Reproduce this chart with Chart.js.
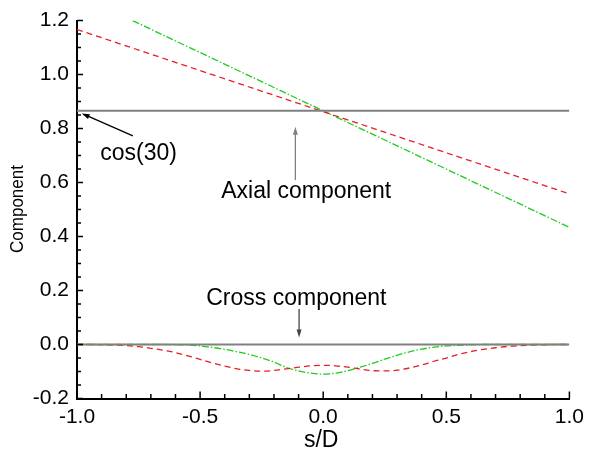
<!DOCTYPE html>
<html>
<head>
<meta charset="utf-8">
<script src="https://cdn.jsdelivr.net/npm/chart.js@4.4.0/dist/chart.umd.min.js"></script>
<style>
html, body { margin: 0; padding: 0; background: #fff; }
</style>
</head>
<body>
<canvas id="drawChart" width="590" height="451"></canvas>
<script>
// axial component (straight lines), s/D end points
var axialRedS = [-1.0, 1.0];
var axialRed = [1.167, 0.558];
var axialGreenS = [-0.774, 1.0];
var axialGreen = [1.2, 0.434];

// reference lines: cos(30) and zero
var refS = [-1.0, 1.0];
var cos30 = [0.866, 0.866];
var zero = [0.0, 0.0];

// cross component, read every 0.05 in s/D
var crossS = [-1.00, -0.95, -0.90, -0.85, -0.80, -0.75, -0.70, -0.65, -0.60, -0.55,
              -0.50, -0.45, -0.40, -0.35, -0.30, -0.25, -0.20, -0.15, -0.10, -0.05,
               0.00,  0.05,  0.10,  0.15,  0.20,  0.25,  0.30,  0.35,  0.40,  0.45,
               0.50,  0.55,  0.60,  0.65,  0.70,  0.75,  0.80,  0.85,  0.90,  0.95, 1.00];
var crossRed = [0.000, 0.000, -0.001, -0.002, -0.004, -0.008, -0.014, -0.021, -0.030, -0.042,
                -0.055, -0.068, -0.080, -0.090, -0.096, -0.099, -0.096, -0.090, -0.084, -0.079,
                -0.077, -0.079, -0.084, -0.091, -0.097, -0.098, -0.095, -0.087, -0.076, -0.062,
                -0.050, -0.036, -0.026, -0.018, -0.012, -0.007, -0.004, -0.002, -0.001, 0.000, 0.000];
var crossGreen = [0.000, 0.000, 0.000, 0.000, 0.000, 0.000, 0.000, 0.000, -0.001, -0.002,
                  -0.005, -0.011, -0.018, -0.027, -0.037, -0.050, -0.065, -0.085, -0.098, -0.106,
                  -0.110, -0.106, -0.097, -0.084, -0.070, -0.054, -0.040, -0.027, -0.017, -0.010,
                  -0.005, -0.003, -0.001, 0.000, 0.000, 0.000, 0.000, 0.000, 0.000, 0.000, 0.000];

var xTicks = [-1.0, -0.5, 0.0, 0.5, 1.0];
var yTicks = [-0.2, 0.0, 0.2, 0.4, 0.6, 0.8, 1.0, 1.2];

var FONT = '"Liberation Sans", Arial, sans-serif';
var RED = 'rgb(228,32,36)';
var GREEN = 'rgb(30,205,30)';
var GRAY = 'rgb(128,128,128)';

function pts(xs, ys) {
	return xs.map(function (x, i) { return { x: x, y: ys[i] }; });
}

function fmt(v) {
	if (Math.abs(v) < 1e-9) v = 0;
	return v.toFixed(1);
}

// text labels with arrows, in data units
var notes = [
	{ text: 'cos(30)', at: [-0.75, 0.708], from: [-0.773, 0.773], to: [-0.981, 0.856], color: '#000' },
	{ text: 'Axial component', at: [-0.069, 0.565], from: [-0.113, 0.609], to: [-0.113, 0.807], color: GRAY },
	{ text: 'Cross component', at: [-0.109, 0.169], from: [-0.098, 0.132], to: [-0.098, 0.026], color: '#444' }
];

var extras = {
	id: 'extras',
	afterDraw: function (chart) {
		var ctx = chart.ctx, xs = chart.scales.x, ys = chart.scales.y, a = chart.chartArea;
		ctx.save();
		// inward tick marks
		ctx.strokeStyle = '#000';
		ctx.lineWidth = 1.5;
		ctx.beginPath();
		for (var i = 0; i <= 20; i++) {
			var px = xs.getPixelForValue(-1 + i * 0.1);
			var len = (i % 5 === 0) ? 7 : 4.5;
			ctx.moveTo(px, a.bottom);
			ctx.lineTo(px, a.bottom - len);
		}
		for (var j = 0; j <= 28; j++) {
			var py = ys.getPixelForValue(-0.2 + j * 0.05);
			var l2 = (j % 4 === 0) ? 6 : 4;
			ctx.moveTo(a.left, py);
			ctx.lineTo(a.left + l2, py);
		}
		ctx.stroke();

		// axis titles
		ctx.fillStyle = '#000';
		ctx.textAlign = 'center';
		ctx.textBaseline = 'middle';
		ctx.save();
		ctx.translate(18, 209);
		ctx.rotate(-Math.PI / 2);
		ctx.font = '19px ' + FONT;
		var w = ctx.measureText('Component').width;
		ctx.scale(88 / w, 1);
		ctx.fillText('Component', 0, 0);
		ctx.restore();
		ctx.font = '23px ' + FONT;
		ctx.fillText('s/D', (a.left + a.right) / 2 - 2, 441);

		// notes
		ctx.font = '23px ' + FONT;
		notes.forEach(function (n) {
			ctx.fillStyle = '#000';
			ctx.fillText(n.text, xs.getPixelForValue(n.at[0]), ys.getPixelForValue(n.at[1]));
			var x0 = xs.getPixelForValue(n.from[0]), y0 = ys.getPixelForValue(n.from[1]);
			var x1 = xs.getPixelForValue(n.to[0]), y1 = ys.getPixelForValue(n.to[1]);
			var ang = Math.atan2(y1 - y0, x1 - x0);
			ctx.strokeStyle = n.color;
			ctx.fillStyle = n.color;
			ctx.lineWidth = 1.3;
			ctx.beginPath();
			ctx.moveTo(x0, y0);
			ctx.lineTo(x1 - 5 * Math.cos(ang), y1 - 5 * Math.sin(ang));
			ctx.stroke();
			ctx.beginPath();
			ctx.moveTo(x1, y1);
			ctx.lineTo(x1 - 8 * Math.cos(ang) + 2.5 * Math.sin(ang), y1 - 8 * Math.sin(ang) - 2.5 * Math.cos(ang));
			ctx.lineTo(x1 - 8 * Math.cos(ang) - 2.5 * Math.sin(ang), y1 - 8 * Math.sin(ang) + 2.5 * Math.cos(ang));
			ctx.closePath();
			ctx.fill();
		});
		ctx.restore();
	}
};

var line = function (data, color, width, dash) {
	return {
		data: data,
		showLine: true,
		borderColor: color,
		borderWidth: width,
		borderDash: dash,
		pointRadius: 0,
		fill: false,
		cubicInterpolationMode: 'monotone'
	};
};

var ctx = document.getElementById('drawChart').getContext('2d');
var drawChart = new Chart(ctx, {
	type: 'scatter',
	data: {
		datasets: [
			line(pts(refS, cos30), GRAY, 2, []),
			line(pts(refS, zero), GRAY, 2, []),
			line(pts(axialRedS, axialRed), RED, 1.3, [6, 4]),
			line(pts(axialGreenS, axialGreen), GREEN, 1.3, [7, 2, 1.5, 2]),
			line(pts(crossS, crossRed), RED, 1.3, [6, 4]),
			line(pts(crossS, crossGreen), GREEN, 1.3, [7, 2, 1.5, 2])
		]
	},
	options: {
		responsive: false,
		animation: false,
		layout: { padding: { top: 17, right: 17, left: 0, bottom: 0 } },
		plugins: { legend: { display: false }, tooltip: { enabled: false } },
		scales: {
			x: {
				type: 'linear',
				min: -1, max: 1,
				afterBuildTicks: function (s) { s.ticks = xTicks.map(function (v) { return { value: v }; }); },
				afterFit: function (s) { s.height = 52.5; },
				grid: { display: false, drawTicks: false },
				border: { display: true, color: '#000', width: 2 },
				ticks: { color: '#000', font: { family: FONT, size: 21 }, padding: 6, maxRotation: 0, callback: fmt },
				title: { display: false }
			},
			y: {
				type: 'linear',
				min: -0.2, max: 1.2,
				afterBuildTicks: function (s) { s.ticks = yTicks.map(function (v) { return { value: v }; }); },
				afterFit: function (s) { s.width = 77; },
				grid: { display: false, drawTicks: false },
				border: { display: true, color: '#000', width: 2 },
				ticks: { color: '#000', font: { family: FONT, size: 21 }, padding: 8, callback: fmt },
				title: { display: false }
			}
		}
	},
	plugins: [extras]
});
</script>
</body>
</html>
